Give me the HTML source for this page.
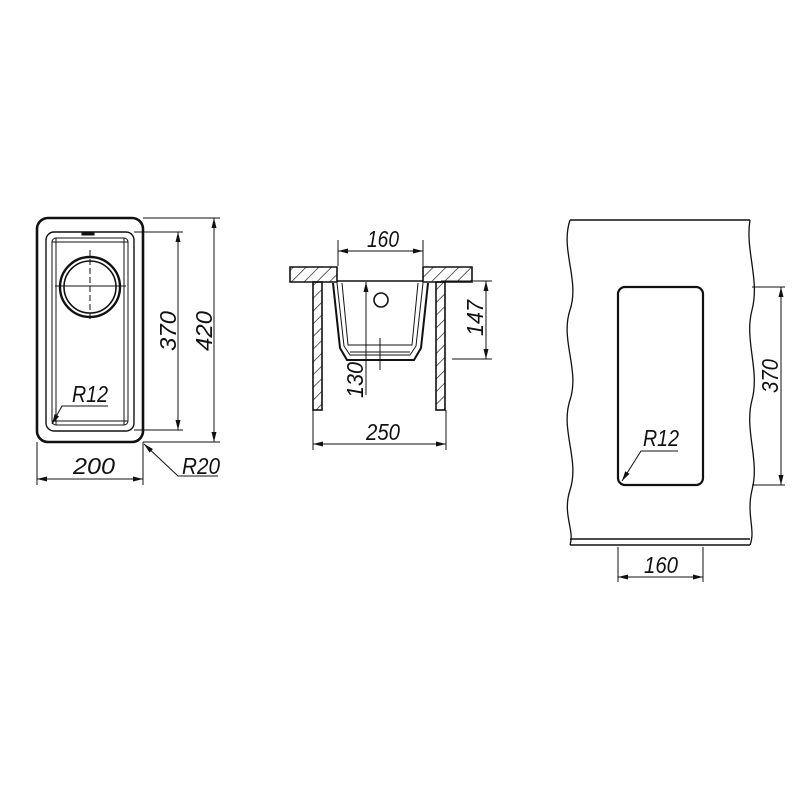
<!DOCTYPE html>
<html><head><meta charset="utf-8"><style>body{margin:0;background:#fff}svg{display:block}text{font-family:"Liberation Sans",sans-serif;font-style:italic;font-size:23px;fill:#111}</style></head><body>
<svg width="800" height="800" viewBox="0 0 800 800" xmlns="http://www.w3.org/2000/svg">
<defs>
<marker id="a" viewBox="0 0 12 6" refX="12" refY="3" markerWidth="12" markerHeight="5" orient="auto-start-reverse" markerUnits="userSpaceOnUse"><path d="M0,0L12,3L0,6z" fill="#111"/></marker>
<pattern id="h" width="9" height="9" patternUnits="userSpaceOnUse" patternTransform="rotate(45)"><line x1="0" y1="0" x2="0" y2="9" stroke="#111" stroke-width="1.3"/></pattern>
</defs>
<g fill="none" stroke="#111" stroke-width="1">
<rect x="37" y="218" width="106" height="224" rx="11" stroke-width="2.6"/>
<rect x="46" y="232" width="88" height="199" rx="8" stroke-width="1.4"/>
<rect x="52" y="238" width="76" height="187" rx="4"/>
<line x1="56" y1="238" x2="56" y2="425"/><line x1="124" y1="238" x2="124" y2="425"/>
<line x1="52" y1="242" x2="128" y2="242"/><line x1="52" y1="421" x2="128" y2="421"/>
<path d="M82,233h12v2h-12z" fill="#111"/>
<circle cx="90" cy="287" r="30" stroke-width="2.4"/>
<circle cx="90" cy="287" r="26" stroke-width="1.6"/>
<line x1="55" y1="286" x2="126" y2="286"/><line x1="90" y1="250" x2="90" y2="322" stroke-dasharray="6 3"/>
<line x1="143" y1="218" x2="220" y2="218"/><line x1="143" y1="442" x2="220" y2="442"/>
<line x1="134" y1="232" x2="183" y2="232"/><line x1="134" y1="430" x2="183" y2="430"/>
<line x1="178" y1="232" x2="178" y2="430" marker-start="url(#a)" marker-end="url(#a)"/>
<line x1="214" y1="218" x2="214" y2="442" marker-start="url(#a)" marker-end="url(#a)"/>
<line x1="37" y1="442" x2="37" y2="485"/><line x1="143" y1="442" x2="143" y2="485"/>
<line x1="37" y1="479" x2="143" y2="479" marker-start="url(#a)" marker-end="url(#a)"/>
<polyline points="218,476 178,476 144,444" marker-end="url(#a)"/>
<polyline points="108,406 62,406 52,424" marker-end="url(#a)"/>
<path d="M290,267H337V282H290z" fill="url(#h)" stroke-width="1.6"/>
<path d="M423,267H472V282H423z" fill="url(#h)" stroke-width="1.6"/>
<rect x="313" y="282" width="9" height="128" fill="url(#h)" stroke-width="1.6"/>
<rect x="436" y="282" width="9" height="128" fill="url(#h)" stroke-width="1.6"/>
<line x1="337" y1="281" x2="423" y2="281" stroke-width="1.6"/>
<path d="M333,283L340,348L347,360H414L421,348L428,283" stroke-width="2"/>
<path d="M337,283L344,346L350,355H410L416,346L423,283"/>
<path d="M342,283L348,345H412L418,283"/>
<line x1="350" y1="352" x2="410" y2="352"/>
<circle cx="381" cy="300" r="7" stroke-width="1.6"/>
<line x1="338" y1="240" x2="338" y2="266"/><line x1="423" y1="240" x2="423" y2="266"/>
<line x1="338" y1="251" x2="423" y2="251" marker-start="url(#a)" marker-end="url(#a)"/>
<line x1="441" y1="281" x2="492" y2="281"/><line x1="452" y1="359" x2="492" y2="359"/>
<line x1="486" y1="281" x2="486" y2="359" marker-start="url(#a)" marker-end="url(#a)"/>
<line x1="366" y1="282" x2="366" y2="395" marker-start="url(#a)"/>
<line x1="380" y1="338" x2="380" y2="370"/>
<line x1="313" y1="410" x2="313" y2="450"/><line x1="446" y1="410" x2="446" y2="450"/>
<line x1="313" y1="444" x2="446" y2="444" marker-start="url(#a)" marker-end="url(#a)"/>
<path d="M570,220H750" stroke-width="1.6"/>
<path d="M570,220C560,250 580,280 570,310C560,340 580,370 570,400C560,430 580,460 570,490C562,515 575,530 570,545" stroke-width="1.3"/>
<path d="M750,220C745,250 760,280 752,310C744,340 760,370 752,400C744,430 760,460 752,490C746,515 756,530 750,545" stroke-width="1.3"/>
<line x1="570" y1="539" x2="750" y2="539" stroke-width="1.6"/><line x1="570" y1="545" x2="750" y2="545" stroke-width="1.6"/>
<rect x="618" y="287" width="85" height="198" rx="7" stroke-width="2.2"/>
<line x1="752" y1="287" x2="785" y2="287"/><line x1="752" y1="485" x2="785" y2="485"/>
<line x1="781" y1="287" x2="781" y2="485" marker-start="url(#a)" marker-end="url(#a)"/>
<line x1="618" y1="547" x2="618" y2="582"/><line x1="703" y1="547" x2="703" y2="582"/>
<line x1="618" y1="577" x2="703" y2="577" marker-start="url(#a)" marker-end="url(#a)"/>
<polyline points="678,451 641,451 622,481" marker-end="url(#a)"/>
</g>
<text x="72" y="402" textLength="36" lengthAdjust="spacingAndGlyphs">R12</text>
<text x="73" y="474" textLength="42" lengthAdjust="spacingAndGlyphs">200</text>
<text x="182" y="474" textLength="38" lengthAdjust="spacingAndGlyphs">R20</text>
<text transform="translate(176,331) rotate(-90)" text-anchor="middle" textLength="40" lengthAdjust="spacingAndGlyphs">370</text>
<text transform="translate(212,331) rotate(-90)" text-anchor="middle" textLength="40" lengthAdjust="spacingAndGlyphs">420</text>
<text x="383" y="247" text-anchor="middle" textLength="32" lengthAdjust="spacingAndGlyphs">160</text>
<text transform="translate(483,318) rotate(-90)" text-anchor="middle" textLength="36" lengthAdjust="spacingAndGlyphs">147</text>
<text transform="translate(363,380) rotate(-90)" text-anchor="middle" textLength="36" lengthAdjust="spacingAndGlyphs">130</text>
<text x="383" y="440" text-anchor="middle" textLength="34" lengthAdjust="spacingAndGlyphs">250</text>
<text x="643" y="446" textLength="36" lengthAdjust="spacingAndGlyphs">R12</text>
<text transform="translate(778,376) rotate(-90)" text-anchor="middle" textLength="34" lengthAdjust="spacingAndGlyphs">370</text>
<text x="661" y="573" text-anchor="middle" textLength="34" lengthAdjust="spacingAndGlyphs">160</text>
</svg>
</body></html>
